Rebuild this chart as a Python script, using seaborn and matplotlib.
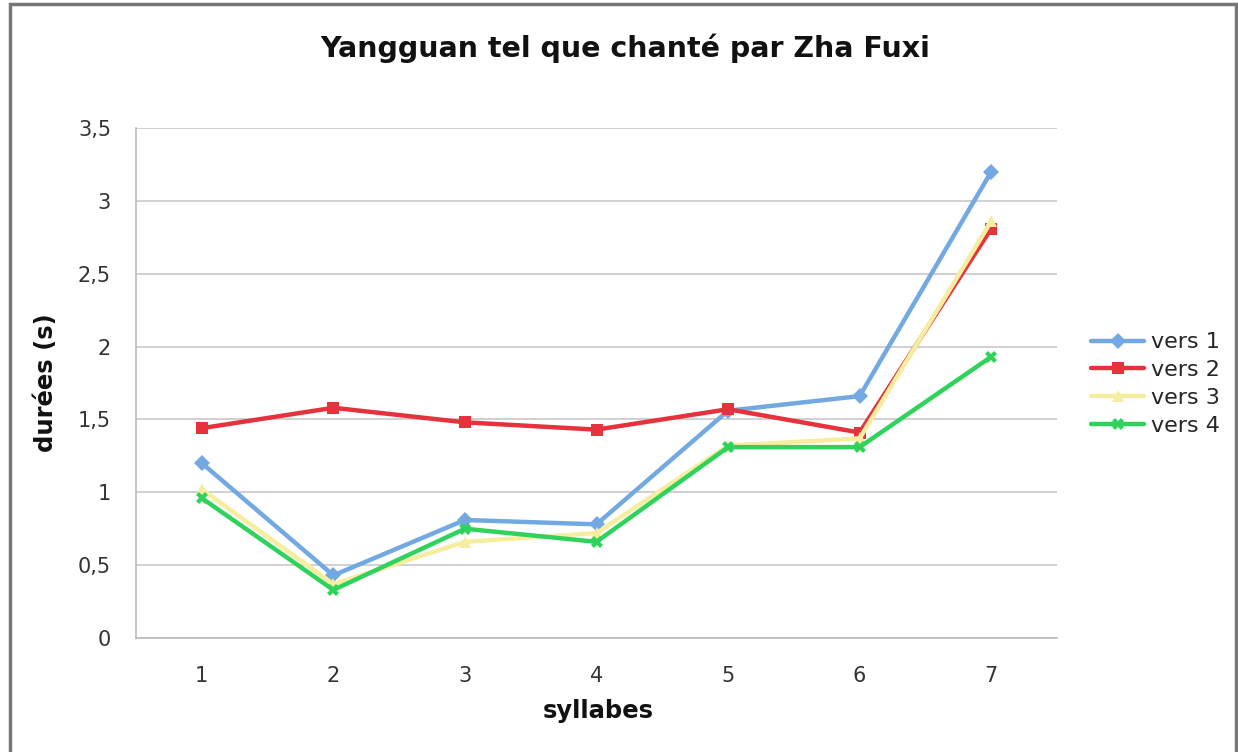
import numpy as np
import pandas as pd
import matplotlib
matplotlib.use("Agg")
import matplotlib.pyplot as plt
import seaborn as sns
from matplotlib.ticker import FuncFormatter, FixedLocator

syllabes = [1, 2, 3, 4, 5, 6, 7]
vers1 = [1.20, 0.43, 0.81, 0.78, 1.56, 1.66, 3.20]
vers2 = [1.44, 1.58, 1.48, 1.43, 1.57, 1.41, 2.81]
vers3 = [1.02, 0.37, 0.66, 0.72, 1.32, 1.37, 2.86]
vers4 = [0.96, 0.33, 0.75, 0.66, 1.31, 1.31, 1.93]
series_names = ["vers 1", "vers 2", "vers 3", "vers 4"]
yticks = [0, 0.5, 1, 1.5, 2, 2.5, 3, 3.5]

df = pd.DataFrame({
    "syllabes": syllabes * 4,
    "durees": vers1 + vers2 + vers3 + vers4,
    "serie": sum([[n] * len(syllabes) for n in series_names], []),
})

sns.set_style("white")
plt.rcParams["font.family"] = ["DejaVu Sans"]

colors = {"vers 1": "#72a9e2", "vers 2": "#e5323c", "vers 3": "#f6ee9e", "vers 4": "#2fd35c"}
markers = {"vers 1": "D", "vers 2": "s", "vers 3": "^", "vers 4": "X"}

fig = plt.figure(figsize=(12.38, 7.52), dpi=100)
ax = fig.add_axes([136/1238, 1-638/752, (1057-136)/1238, (638-128)/752])

sns.lineplot(data=df, x="syllabes", y="durees", hue="serie", style="serie",
             palette=colors, markers=markers, dashes=False, linewidth=3.2,
             markersize=8, markeredgewidth=0, ax=ax, zorder=3)

ax.set_xlim(0.5, 7.5)
ax.set_ylim(0, 3.5)
ax.yaxis.set_major_locator(FixedLocator(yticks))
ax.yaxis.set_major_formatter(FuncFormatter(lambda v, p: ("%g" % v).replace(".", ",")))
ax.set_xticks(syllabes)
ax.set_xticks(np.arange(0.5, 7.6, 1), minor=True)
ax.tick_params(axis="x", which="major", length=0, pad=20, labelsize=15, labelcolor="#333333")
ax.tick_params(axis="x", which="minor", length=5, color="#bbbbbb", direction="out")
ax.tick_params(axis="y", which="major", length=6, color="#bbbbbb", direction="out",
               labelsize=15, labelcolor="#333333", pad=12)
ax.grid(axis="y", color="#c8c8c8", linewidth=1.2)
ax.set_axisbelow(True)
for s in ["top", "right"]:
    ax.spines[s].set_visible(False)
for s in ["left", "bottom"]:
    ax.spines[s].set_color("#bbbbbb")
    ax.spines[s].set_linewidth(1.2)

ax.set_xlabel("syllabes", fontsize=17.5, fontweight="bold", color="#111111")
ax.xaxis.set_label_coords((598-136)/(1057-136), -(699-638)/(638-128))
ax.set_ylabel("durées (s)", fontsize=17.5, fontweight="bold", color="#111111")
ax.yaxis.set_label_coords(-(136-58)/(1057-136), (638-383)/(638-128))

fig.text(625/1238, 1-48/752, "Yangguan tel que chanté par Zha Fuxi",
         ha="center", va="center", fontsize=20.5, fontweight="bold", color="#111111")

handles, labels = ax.get_legend_handles_labels()
ax.legend(handles, labels, loc="center left", bbox_to_anchor=(1080/1238, 1-384/752),
          bbox_transform=fig.transFigure, frameon=False, fontsize=16,
          handlelength=2.4, handletextpad=0.3, labelspacing=0.35, borderpad=0)

border = plt.Rectangle((10/1238, -0.01), (1236-10)/1238, 1-4/752 + 0.01, transform=fig.transFigure,
                       fill=False, edgecolor="#777777", linewidth=2.5)
fig.patches.append(border)

fig.savefig("out.png", dpi=100)
